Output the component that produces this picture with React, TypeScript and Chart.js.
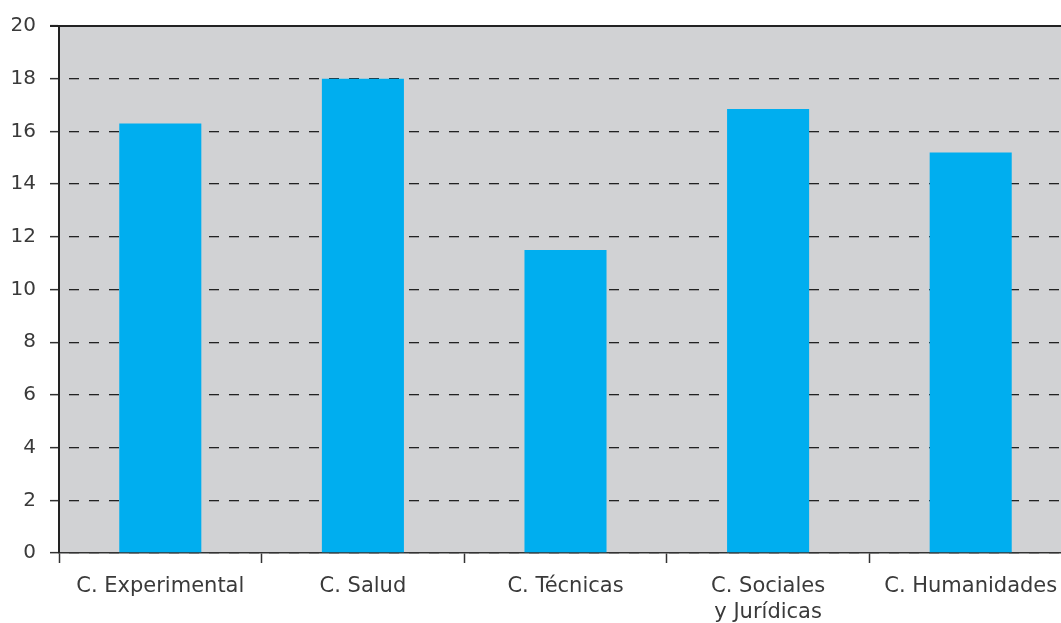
import React, { useEffect, useRef } from "react";
import { Chart, registerables } from "chart.js";

Chart.register(...registerables);

const categories: (string | string[])[] = [
  "C. Experimental",
  "C. Salud",
  "C. Técnicas",
  ["C. Sociales", "y Jurídicas"],
  "C. Humanidades",
];
const values: number[] = [16.3, 18.0, 11.5, 16.85, 15.2];
const yTicks: number[] = [0, 2, 4, 6, 8, 10, 12, 14, 16, 18, 20];

const FONT = "'DejaVu Sans', sans-serif";

const bgPlugin = {
  id: "plotBg",
  beforeDraw(chart: any) {
    const { ctx, chartArea } = chart;
    ctx.save();
    ctx.fillStyle = "#d1d2d4";
    ctx.fillRect(chartArea.left, chartArea.top, chartArea.right - chartArea.left, chartArea.bottom - chartArea.top);
    ctx.restore();
  },
  afterDraw(chart: any) {
    const { ctx, chartArea } = chart;
    ctx.save();
    ctx.strokeStyle = "#222";
    ctx.lineWidth = 2;
    ctx.beginPath();
    ctx.moveTo(chartArea.left - 9, chartArea.top);
    ctx.lineTo(chartArea.right, chartArea.top);
    ctx.stroke();
    ctx.beginPath();
    ctx.moveTo(chartArea.left, chartArea.top);
    ctx.lineTo(chartArea.left, chartArea.bottom);
    ctx.stroke();
    ctx.restore();
  },
};

export default function App() {
  const ref = useRef<HTMLCanvasElement>(null);
  useEffect(() => {
    if (!ref.current) return;
    const chart = new Chart(ref.current, {
      type: "bar",
      data: {
        labels: categories,
        datasets: [
          {
            data: values,
            backgroundColor: "#00aeef",
            borderWidth: 0,
            barPercentage: 0.405,
            categoryPercentage: 1,
          },
        ],
      },
      options: {
        responsive: false,
        animation: false,
        maintainAspectRatio: false,
        layout: { padding: { top: 13, right: 0, bottom: 0, left: 0 } },
        plugins: { legend: { display: false }, tooltip: { enabled: false } },
        scales: {
          x: {
            grid: {
              display: true,
              offset: true,
              drawOnChartArea: false,
              drawTicks: true,
              tickLength: 10,
              tickColor: "#333",
              tickWidth: 1.5,
            },
            border: { display: true, color: "#333", width: 1.5 },
            ticks: {
              color: "#3a3a3a",
              font: { family: FONT, size: 21, lineHeight: 1.25 },
              padding: 10,
              maxRotation: 0,
              autoSkip: false,
            },
            afterFit(scale: any) {
              scale.height = 70;
            },
          },
          y: {
            min: 0,
            max: 20,
            afterBuildTicks(scale: any) {
              scale.ticks = yTicks.map((v) => ({ value: v }));
            },
            grid: {
              display: true,
              color: "#222",
              lineWidth: 1.3,
              drawTicks: true,
              tickLength: 9,
              tickColor: "#333",
              tickWidth: 1.5,
              tickBorderDash: [],
            },
            border: { display: true, color: "#222", width: 2, dash: [10, 10], dashOffset: 11 },
            ticks: {
              color: "#3a3a3a",
              font: { family: FONT, size: 20 },
              padding: 14,
            },
            afterFit(scale: any) {
              scale.width = 59;
            },
          },
        },
      },
      plugins: [bgPlugin],
    });
    return () => chart.destroy();
  }, []);
  return (
    <div style={{ position: "absolute", left: 0, top: 0, width: 1061, height: 623, overflow: "hidden", background: "#fff" }}>
      <canvas ref={ref} width={1072} height={623} style={{ display: "block" }} />
    </div>
  );
}
